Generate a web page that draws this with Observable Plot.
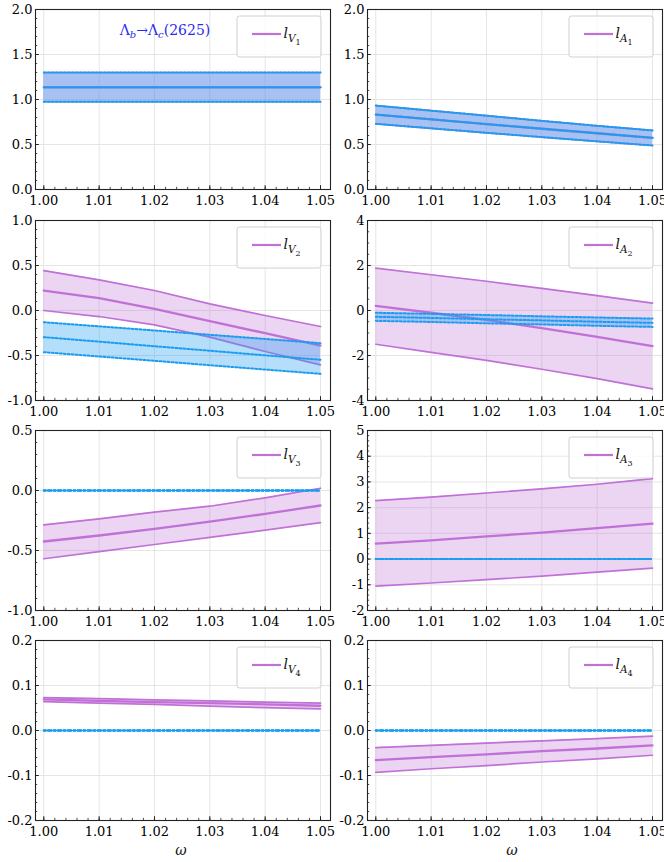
<!DOCTYPE html>
<html><head><meta charset="utf-8">
<script src="https://cdn.jsdelivr.net/npm/d3@7"></script>
<script src="https://cdn.jsdelivr.net/npm/@observablehq/plot@0.6"></script>
<style>
html,body{margin:0;padding:0;background:#fff;}
#root{position:relative;width:664px;height:862px;overflow:hidden;background:#fff;}
#root svg{position:absolute;overflow:visible;}
#root svg text{font-family:"DejaVu Serif",serif;}
</style></head><body><div id="root"></div>
<script>
// ---------- data ----------
const omega = [1.00, 1.01, 1.02, 1.03, 1.04, 1.05];
const xTicks = [1.00, 1.01, 1.02, 1.03, 1.04, 1.05];

// purple band (solid lines) and blue band (dotted lines) per form factor
const lV1_lo  = [0.975, 0.975, 0.975, 0.975, 0.975, 0.975];
const lV1_mid = [1.135, 1.135, 1.135, 1.135, 1.135, 1.135];
const lV1_hi  = [1.300, 1.300, 1.300, 1.300, 1.300, 1.300];
const lV1_b_lo  = [0.975, 0.975, 0.975, 0.975, 0.975, 0.975];
const lV1_b_mid = [1.135, 1.135, 1.135, 1.135, 1.135, 1.135];
const lV1_b_hi  = [1.300, 1.300, 1.300, 1.300, 1.300, 1.300];

const lA1_lo  = [0.730, 0.680, 0.630, 0.582, 0.535, 0.489];
const lA1_mid = [0.833, 0.780, 0.727, 0.675, 0.625, 0.574];
const lA1_hi  = [0.933, 0.876, 0.820, 0.763, 0.708, 0.656];
const lA1_b_lo  = [0.730, 0.680, 0.630, 0.582, 0.535, 0.489];
const lA1_b_mid = [0.833, 0.780, 0.727, 0.675, 0.625, 0.574];
const lA1_b_hi  = [0.933, 0.876, 0.820, 0.763, 0.708, 0.656];

const lV2_lo  = [0.000, -0.067, -0.160, -0.296, -0.456, -0.604];
const lV2_mid = [0.222, 0.137, 0.019, -0.119, -0.252, -0.389];
const lV2_hi  = [0.444, 0.341, 0.222, 0.074, -0.056, -0.178];
const lV2_b_lo  = [-0.463, -0.511, -0.559, -0.608, -0.656, -0.704];
const lV2_b_mid = [-0.296, -0.346, -0.397, -0.447, -0.498, -0.548];
const lV2_b_hi  = [-0.130, -0.176, -0.222, -0.270, -0.316, -0.363];

const lA2_lo  = [-1.50, -1.86, -2.22, -2.61, -3.03, -3.48];
const lA2_mid = [0.207, -0.10, -0.42, -0.78, -1.17, -1.585];
const lA2_hi  = [1.88, 1.59, 1.30, 0.98, 0.66, 0.326];
const lA2_b_lo  = [-0.46, -0.51, -0.57, -0.62, -0.68, -0.73];
const lA2_b_mid = [-0.28, -0.33, -0.39, -0.44, -0.50, -0.55];
const lA2_b_hi  = [-0.10, -0.15, -0.20, -0.26, -0.31, -0.36];

const lV3_lo  = [-0.569, -0.510, -0.450, -0.390, -0.330, -0.267];
const lV3_mid = [-0.425, -0.375, -0.320, -0.260, -0.195, -0.125];
const lV3_hi  = [-0.286, -0.236, -0.180, -0.131, -0.061, 0.019];
const lV3_b_lo  = [0, 0, 0, 0, 0, 0];
const lV3_b_mid = [0, 0, 0, 0, 0, 0];
const lV3_b_hi  = [0, 0, 0, 0, 0, 0];

const lA3_lo  = [-1.05, -0.93, -0.80, -0.66, -0.51, -0.35];
const lA3_mid = [0.60, 0.73, 0.88, 1.03, 1.20, 1.38];
const lA3_hi  = [2.27, 2.41, 2.57, 2.73, 2.91, 3.13];
const lA3_b_lo  = [0, 0, 0, 0, 0, 0];
const lA3_b_mid = [0, 0, 0, 0, 0, 0];
const lA3_b_hi  = [0, 0, 0, 0, 0, 0];

const lV4_lo  = [0.064, 0.061, 0.058, 0.054, 0.051, 0.048];
const lV4_mid = [0.069, 0.066, 0.063, 0.061, 0.058, 0.055];
const lV4_hi  = [0.073, 0.071, 0.068, 0.066, 0.063, 0.061];
const lV4_b_lo  = [0, 0, 0, 0, 0, 0];
const lV4_b_mid = [0, 0, 0, 0, 0, 0];
const lV4_b_hi  = [0, 0, 0, 0, 0, 0];

const lA4_lo  = [-0.093, -0.085, -0.078, -0.070, -0.063, -0.055];
const lA4_mid = [-0.066, -0.059, -0.053, -0.046, -0.040, -0.033];
const lA4_hi  = [-0.038, -0.033, -0.028, -0.023, -0.018, -0.0126];
const lA4_b_lo  = [0, 0, 0, 0, 0, 0];
const lA4_b_mid = [0, 0, 0, 0, 0, 0];
const lA4_b_hi  = [0, 0, 0, 0, 0, 0];

const yTicks12 = [0, 0.5, 1.0, 1.5, 2.0];
const yTicksV2 = [-1.0, -0.5, 0.0, 0.5, 1.0];
const yTicksA2 = [-4, -2, 0, 2, 4];
const yTicksV3 = [-1.0, -0.5, 0.0, 0.5];
const yTicksA3 = [-2, -1, 0, 1, 2, 3, 4, 5];
const yTicks4  = [-0.2, -0.1, 0.0, 0.1, 0.2];

const legendLetters = ["V", "A"];
const legendIndex = [1, 2, 3, 4];
const titleText = ["Λ", "b", "→", "Λ", "c", "(2625)"];

// ---------- styling ----------
const PURPLE = "#c070d6";
const BLUE = "#1a9cf0";
const FONT = "'DejaVu Serif', serif";
const f1 = d => d.toFixed(1);
const f0 = d => String(d);

const rowsOf = (lo, mid, hi) => omega.map((w, i) => ({w, lo: lo[i], mid: mid[i], hi: hi[i]}));

const panels = [
  {col:0,row:0,L:0,n:1,dom:[0,2],ticks:yTicks12,minor:0.1,fmt:f1,p:[lV1_lo,lV1_mid,lV1_hi],b:[lV1_b_lo,lV1_b_mid,lV1_b_hi],zero:false},
  {col:1,row:0,L:1,n:1,dom:[0,2],ticks:yTicks12,minor:0.1,fmt:f1,p:[lA1_lo,lA1_mid,lA1_hi],b:[lA1_b_lo,lA1_b_mid,lA1_b_hi],zero:false},
  {col:0,row:1,L:0,n:2,dom:[-1,1],ticks:yTicksV2,minor:0.1,fmt:f1,p:[lV2_lo,lV2_mid,lV2_hi],b:[lV2_b_lo,lV2_b_mid,lV2_b_hi],zero:false},
  {col:1,row:1,L:1,n:2,dom:[-4,4],ticks:yTicksA2,minor:0.5,fmt:f0,p:[lA2_lo,lA2_mid,lA2_hi],b:[lA2_b_lo,lA2_b_mid,lA2_b_hi],zero:false},
  {col:0,row:2,L:0,n:3,dom:[-1,0.5],ticks:yTicksV3,minor:0.1,fmt:f1,p:[lV3_lo,lV3_mid,lV3_hi],b:[lV3_b_lo,lV3_b_mid,lV3_b_hi],zero:true},
  {col:1,row:2,L:1,n:3,dom:[-2,5],ticks:yTicksA3,minor:0.2,fmt:f0,p:[lA3_lo,lA3_mid,lA3_hi],b:[lA3_b_lo,lA3_b_mid,lA3_b_hi],zero:true},
  {col:0,row:3,L:0,n:4,dom:[-0.2,0.2],ticks:yTicks4,minor:0.02,fmt:f1,p:[lV4_lo,lV4_mid,lV4_hi],b:[lV4_b_lo,lV4_b_mid,lV4_b_hi],zero:true},
  {col:1,row:3,L:1,n:4,dom:[-0.2,0.2],ticks:yTicks4,minor:0.02,fmt:f1,p:[lA4_lo,lA4_mid,lA4_hi],b:[lA4_b_lo,lA4_b_mid,lA4_b_hi],zero:true}
];

const W = 332, ML = 35, MR = 2, MT = 9, FH = 180, FW = W - ML - MR;
const rowTop = [0, 211, 421, 631];
const root = document.getElementById("root");

function minorTicks(dom, step) {
  const n = Math.round((dom[1] - dom[0]) / step);
  return d3.range(n + 1).map(i => +(dom[0] + i * step).toFixed(6));
}
const xMinor = minorTicks([1.0, 1.05], 0.002);

panels.forEach(pn => {
  const last = pn.row === 3;
  const MB = last ? 51 : 21;
  const H = MT + FH + MB;
  const pr = rowsOf(...pn.p), br = rowsOf(...pn.b);
  const dash = pn.zero ? "2,2.2,3.5,2.2" : "2,2";
  const svg = Plot.plot({
    width: W, height: H,
    marginLeft: ML, marginRight: MR, marginTop: MT, marginBottom: MB,
    x: {domain: [1.0, 1.05], insetLeft: 8.3, insetRight: 10, axis: null},
    y: {domain: pn.dom, axis: null},
    style: {fontFamily: FONT, fontSize: "13px", color: "#000", background: "transparent", overflow: "visible"},
    marks: [
      Plot.gridX(xTicks, {stroke: "#e2e2e2", strokeOpacity: 1, strokeWidth: 0.9}),
      Plot.gridY(pn.ticks, {stroke: "#e2e2e2", strokeOpacity: 1, strokeWidth: 0.9}),
      Plot.areaY(pr, {x: "w", y1: "lo", y2: "hi", fill: PURPLE, fillOpacity: 0.3}),
      Plot.lineY(pr, {x: "w", y: "hi", stroke: PURPLE, strokeWidth: 1.7}),
      Plot.lineY(pr, {x: "w", y: "lo", stroke: PURPLE, strokeWidth: 1.7}),
      Plot.lineY(pr, {x: "w", y: "mid", stroke: PURPLE, strokeWidth: 2.3}),
      Plot.areaY(br, {x: "w", y1: "lo", y2: "hi", fill: BLUE, fillOpacity: 0.33}),
      Plot.lineY(br, {x: "w", y: "hi", stroke: BLUE, strokeWidth: 2, strokeDasharray: dash}),
      Plot.lineY(br, {x: "w", y: "lo", stroke: BLUE, strokeWidth: 2, strokeDasharray: dash}),
      Plot.lineY(br, {x: "w", y: "mid", stroke: BLUE, strokeWidth: 2, strokeDasharray: dash}),
      Plot.tickY(minorTicks(pn.dom, pn.minor), {y: d => d, insetRight: FW - 2.2, stroke: "#222", strokeWidth: 0.8}),
      Plot.tickY(pn.ticks, {y: d => d, insetRight: FW - 3.8, stroke: "#222", strokeWidth: 1}),
      Plot.tickX(xMinor, {x: d => d, insetTop: FH - 2.2, stroke: "#222", strokeWidth: 0.8}),
      Plot.tickX(xTicks, {x: d => d, insetTop: FH - 3.8, stroke: "#222", strokeWidth: 1}),
      Plot.axisX(xTicks, {tickSize: 0, tickPadding: 6, tickFormat: d => d.toFixed(2), label: null, fontSize: 13, fill: "#000"}),
      Plot.axisY(pn.ticks, {tickSize: 0, tickPadding: 3, tickFormat: pn.fmt, label: null, fontSize: 13, fill: "#000"}),
      Plot.frame({stroke: "#222", strokeWidth: 1.1})
    ]
  });
  svg.style.left = (pn.col * W) + "px";
  svg.style.top = rowTop[pn.row] + "px";
  root.appendChild(svg);

  const s = d3.select(svg);
  // legend
  const bx = ML + FW - 9 - 84, by = MT + 7;
  const g = s.append("g");
  g.append("rect").attr("x", bx).attr("y", by).attr("width", 84).attr("height", 41)
    .attr("rx", 2.5).attr("fill", "#fff").attr("fill-opacity", 0.8)
    .attr("stroke", "#cfcfcf").attr("stroke-width", 1);
  g.append("line").attr("x1", bx + 15).attr("x2", bx + 44).attr("y1", by + 18).attr("y2", by + 18)
    .attr("stroke", PURPLE).attr("stroke-width", 2.2);
  const t = g.append("text").attr("x", bx + 55).attr("y", by + 22).attr("fill", "#111");
  t.append("tspan").attr("font-style", "italic").attr("font-size", 14).text("l");
  t.append("tspan").attr("font-style", "italic").attr("font-size", 10.5).attr("dy", 4).text(legendLetters[pn.L]);
  t.append("tspan").attr("font-size", 8).attr("dy", 2.5).text(legendIndex[pn.n - 1]);

  if (pn.col === 0 && pn.row === 0) {
    const tt = s.append("text").attr("x", 165).attr("y", 35).attr("text-anchor", "middle")
      .attr("font-size", 14).attr("fill", "#2b2bef");
    tt.append("tspan").text(titleText[0]);
    tt.append("tspan").attr("font-style", "italic").attr("font-size", 10).attr("dy", 3).text(titleText[1]);
    tt.append("tspan").attr("dy", -3).text(titleText[2]);
    tt.append("tspan").text(titleText[3]);
    tt.append("tspan").attr("font-style", "italic").attr("font-size", 10).attr("dy", 3).text(titleText[4]);
    tt.append("tspan").attr("dy", -3).text(titleText[5]);
  }
  if (last) {
    s.append("text").attr("x", pn.col === 0 ? 181 : 180).attr("y", MT + FH + 35)
      .attr("text-anchor", "middle").attr("font-style", "italic")
      .attr("font-size", 14).attr("fill", "#111").text("ω");
  }
});
</script></body></html>
